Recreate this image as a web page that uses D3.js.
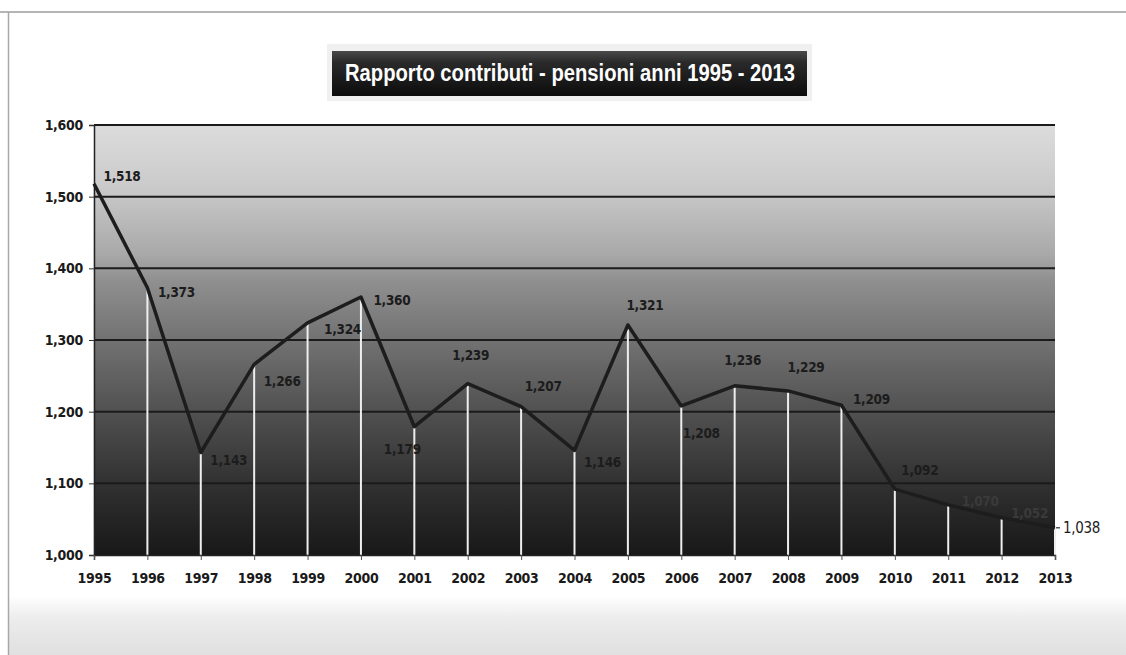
<!DOCTYPE html>
<html><head><meta charset="utf-8">
<script src="https://cdn.jsdelivr.net/npm/d3@7"></script>
<style>
html,body{margin:0;padding:0;background:#fff;}
svg{display:block;}
</style></head>
<body>
<svg id="c" width="1126" height="655"></svg>
<script>
const title = "Rapporto contributi - pensioni anni 1995 - 2013";
const years = ["1995","1996","1997","1998","1999","2000","2001","2002","2003","2004","2005","2006","2007","2008","2009","2010","2011","2012","2013"];
const values = [1518,1373,1143,1266,1324,1360,1179,1239,1207,1146,1321,1208,1236,1229,1209,1092,1070,1052,1038];
const yTicks = [1000,1100,1200,1300,1400,1500,1600];
// label placement offsets (dx, dy) relative to each point
const labelDx = [28,29,28,28,35,31,-12,3,22,28,17,20,8,18,30,25,32,28,8];
const labelDy = [-7,5,8,17,6,3,23,-28,-20,12,-20,27,-26,-24,-6,-19,-4,-4,0];

const svg = d3.select("#c");
const L = 94, R = 1055, T = 125, B = 555;
const x = d3.scalePoint().domain(years).range([L, R]);
const y = d3.scaleLinear().domain([1000,1600]).range([B, T]);
const fmt = d3.format(",");

const defs = svg.append("defs");
const g1 = defs.append("linearGradient").attr("id","bg").attr("x1",0).attr("y1",0).attr("x2",0).attr("y2",1);
[[0,"#dcdcdc"],[0.14,"#cbcbcb"],[0.3,"#a9a9a9"],[0.36,"#909090"],[0.5,"#727272"],[0.68,"#4e4e4e"],[0.84,"#303030"],[1,"#181818"]]
  .forEach(s=>g1.append("stop").attr("offset",s[0]).attr("stop-color",s[1]));
const g2 = defs.append("linearGradient").attr("id","tb").attr("x1",0).attr("y1",0).attr("x2",0).attr("y2",1);
[[0,"#4a4a4a"],[0.25,"#2a2a2a"],[1,"#0c0c0c"]].forEach(s=>g2.append("stop").attr("offset",s[0]).attr("stop-color",s[1]));
const g3 = defs.append("linearGradient").attr("id","foot").attr("x1",0).attr("y1",0).attr("x2",0).attr("y2",1);
[[0,"#ffffff"],[0.4,"#ececec"],[1,"#e0e0e0"]].forEach(s=>g3.append("stop").attr("offset",s[0]).attr("stop-color",s[1]));

// frame
svg.append("rect").attr("x",9).attr("y",595).attr("width",1117).attr("height",60).attr("fill","url(#foot)");
svg.append("line").attr("x1",0).attr("x2",1126).attr("y1",12).attr("y2",12).attr("stroke","#9c9c9c").attr("stroke-width",1.5);
svg.append("line").attr("x1",8.5).attr("x2",8.5).attr("y1",12).attr("y2",655).attr("stroke","#a8a8a8").attr("stroke-width",1.5);

// title
svg.append("rect").attr("x",327).attr("y",44).attr("width",485).attr("height",57).attr("fill","#f0f0f0");
svg.append("rect").attr("x",332).attr("y",51).attr("width",475).attr("height",45).attr("fill","url(#tb)");
svg.append("text").attr("x",570).attr("y",81).attr("text-anchor","middle")
  .attr("font-family","'Liberation Sans Narrow','Liberation Sans',Arial,sans-serif")
  .attr("font-size",23).attr("font-weight","bold").attr("fill","#fff")
  .attr("textLength",450).attr("lengthAdjust","spacingAndGlyphs")
  .text(title);

// plot background
svg.append("rect").attr("x",L).attr("y",T).attr("width",R-L).attr("height",B-T).attr("fill","url(#bg)");

// gridlines
svg.append("g").selectAll("line").data(yTicks.filter(d=>d>1000)).join("line")
  .attr("x1",L).attr("x2",R).attr("y1",d=>y(d)).attr("y2",d=>y(d))
  .attr("stroke","#1b1b1b").attr("stroke-width",2);

// drop lines
svg.append("g").selectAll("line").data(values).join("line")
  .attr("x1",(d,i)=>x(years[i])).attr("x2",(d,i)=>x(years[i]))
  .attr("y1",d=>y(d)).attr("y2",B)
  .attr("stroke","#eeeeee").attr("stroke-width",2);

// axes
const fontAx = "'DejaVu Sans Condensed','DejaVu Sans',sans-serif";
const ya = svg.append("g").attr("transform",`translate(${L},0)`)
  .call(d3.axisLeft(y).tickValues(yTicks).tickFormat(fmt).tickSize(5).tickPadding(6));
ya.select(".domain").attr("stroke","#222").attr("stroke-width",1.5);
ya.selectAll(".tick line").attr("stroke","#333");
ya.selectAll("text").attr("font-family",fontAx).attr("font-size",14).attr("font-weight","bold").attr("fill","#1a1a1a").attr("letter-spacing","-0.3");

const xa = svg.append("g").attr("transform",`translate(0,${B})`)
  .call(d3.axisBottom(x).tickSize(5).tickPadding(13));
xa.select(".domain").attr("stroke","#222").attr("stroke-width",1.5);
xa.selectAll(".tick line").attr("stroke","#555");
xa.selectAll("text").attr("font-family",fontAx).attr("font-size",14).attr("font-weight","bold").attr("fill","#1a1a1a").attr("letter-spacing","-0.3");

// series line
const line = d3.line().x((d,i)=>x(years[i])).y(d=>y(d));
svg.append("path").datum(values).attr("d",line).attr("fill","none")
  .attr("stroke","#1d1d1d").attr("stroke-width",3.5).attr("stroke-linejoin","round");

// data labels
const lastI = values.length-1;
svg.append("g").selectAll("text").data(values).join("text")
  .attr("x",(d,i)=>x(years[i])+labelDx[i])
  .attr("y",(d,i)=>y(d)+labelDy[i])
  .attr("dy","0.35em")
  .attr("text-anchor",(d,i)=>i===lastI?"start":"middle")
  .attr("font-family",fontAx).attr("font-size",(d,i)=>i===lastI?15:13.5)
  .attr("font-weight",(d,i)=>i===lastI?"normal":"bold")
  .attr("letter-spacing","-0.3")
  .attr("fill",(d,i)=>i>=16&&i<18?"#3a3a3a":"#1c1c1c")
  .text(d=>fmt(d));
// small leader for last label
svg.append("line").attr("x1",x(years[lastI])+1).attr("x2",x(years[lastI])+5)
  .attr("y1",y(values[lastI])).attr("y2",y(values[lastI])).attr("stroke","#555").attr("stroke-width",1.5);
</script>
</body></html>
